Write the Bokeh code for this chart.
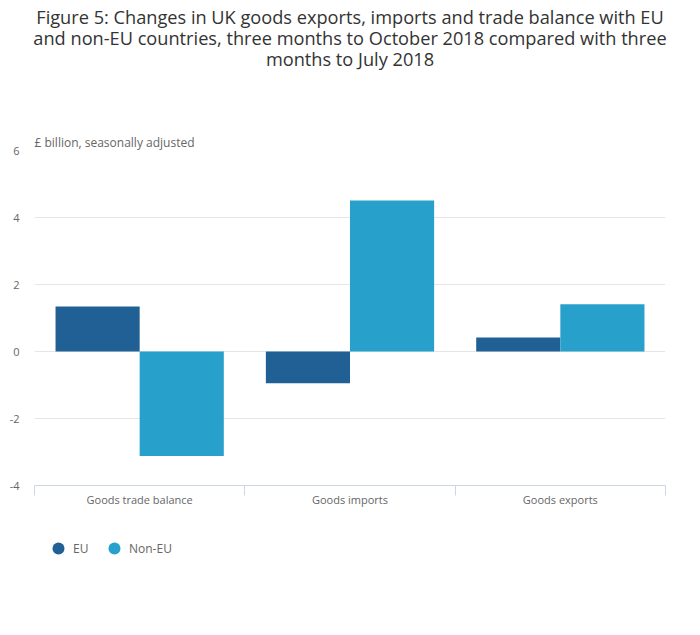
import numpy as np
from bokeh.plotting import figure
from bokeh.layouts import column
from bokeh.models import (ColumnDataSource, FixedTicker, Title, Legend, LegendItem, Range1d, Div)
from bokeh.transform import dodge
from bokeh.embed import file_html
from bokeh.resources import INLINE

categories = ["Goods trade balance", "Goods imports", "Goods exports"]
eu_values = [1.34, -0.95, 0.42]
non_eu_values = [-3.12, 4.51, 1.41]
y_ticks = [-4, -2, 0, 2, 4, 6]
series_names = ["EU", "Non-EU"]
series_colors = ["#206095", "#27a0cc"]
title_lines = ["Figure 5: Changes in UK goods exports, imports and trade balance with EU",
               "and non-EU countries, three months to October 2018 compared with three",
               "months to July 2018"]
y_label = "£ billion, seasonally adjusted"

FONT = "Open Sans"
W = 684

pos = np.arange(len(categories)) + 0.5
src = ColumnDataSource(dict(x=pos, cat=categories, eu=eu_values, neu=non_eu_values))

# ---- main chart ----
p = figure(frame_width=631, frame_height=335, output_backend="svg", toolbar_location=None,
           x_range=Range1d(0, len(categories)), y_range=Range1d(y_ticks[0], y_ticks[-1]),
           min_border_left=34, min_border_right=19, min_border_bottom=30,
           min_border_top=80)
p.outline_line_color = None
p.background_fill_color = "white"
p.border_fill_color = "white"

p.vbar(x=dodge("x", -0.2), top="eu", bottom=0, width=0.4,
       source=src, fill_color=series_colors[0], line_color=None)
p.vbar(x=dodge("x", 0.2), top="neu", bottom=0, width=0.4, source=src,
       fill_color=series_colors[1], line_color=None)

p.xgrid.visible = False
p.ygrid.grid_line_color = "#e6e6e6"
p.ygrid.ticker = FixedTicker(ticks=y_ticks)

ya = p.yaxis[0]
ya.ticker = FixedTicker(ticks=y_ticks)
ya.major_label_overrides = {t: str(t) for t in y_ticks}
ya.axis_line_color = None
ya.major_tick_line_color = None
ya.major_tick_out = 0
ya.minor_tick_line_color = None
ya.major_label_text_font = FONT
ya.major_label_text_font_size = "11px"
ya.major_label_text_color = "#666666"
ya.major_label_standoff = 15

xa = p.xaxis[0]
xa.ticker = FixedTicker(ticks=list(pos), minor_ticks=list(range(len(categories) + 1)))
xa.major_label_overrides = {float(v): c for v, c in zip(pos, categories)}
xa.axis_line_color = "#ccd6eb"
xa.major_tick_line_color = None
xa.major_tick_out = 0
xa.major_tick_in = 0
xa.minor_tick_line_color = "#ccd6eb"
xa.minor_tick_in = 0
xa.minor_tick_out = 10
xa.major_label_text_font = FONT
xa.major_label_text_font_size = "11px"
xa.major_label_text_color = "#666666"
xa.major_label_standoff = -4

p.add_layout(Title(text=y_label, align="left",
                   text_font=FONT, text_font_size="12px", text_font_style="normal",
                   text_color="#666666", standoff=0, offset=0), "above")

# ---- legend strip ----
lg = figure(width=W, height=60, output_backend="svg", toolbar_location=None,
            x_range=Range1d(0, 1), y_range=Range1d(0, 1),
            x_axis_type=None, y_axis_type=None, min_border=0)
lg.outline_line_color = None
lg.grid.visible = False
# zero-size markers: only their legend glyphs are shown
leg_r = [lg.scatter(x="x", y=col, source=src, size=0, marker="circle",
                    fill_color=c, line_color=None)
         for col, c in zip(["eu", "neu"], series_colors)]
legend = Legend(items=[LegendItem(label=n, renderers=[r]) for n, r in zip(series_names, leg_r)],
                orientation="horizontal", location=(9, 12),
                label_text_font=FONT, label_text_font_size="12px",
                label_text_color="#666666", border_line_color=None,
                glyph_width=30, glyph_height=30, label_standoff=0, spacing=6,
                margin=0, padding=9, background_fill_alpha=0)
lg.add_layout(legend, "center")

# ---- title ----
title_div = Div(text="<br>".join(title_lines), width=W - 16, height=63, margin=(7, 0, 0, 16),
                styles={"font-family": FONT, "font-size": "18.2px", "color": "#333333",
                        "text-align": "center", "line-height": "21px"})

layout = column(title_div, p, lg, spacing=0)
open("out.html", "w").write(file_html(layout, INLINE))
